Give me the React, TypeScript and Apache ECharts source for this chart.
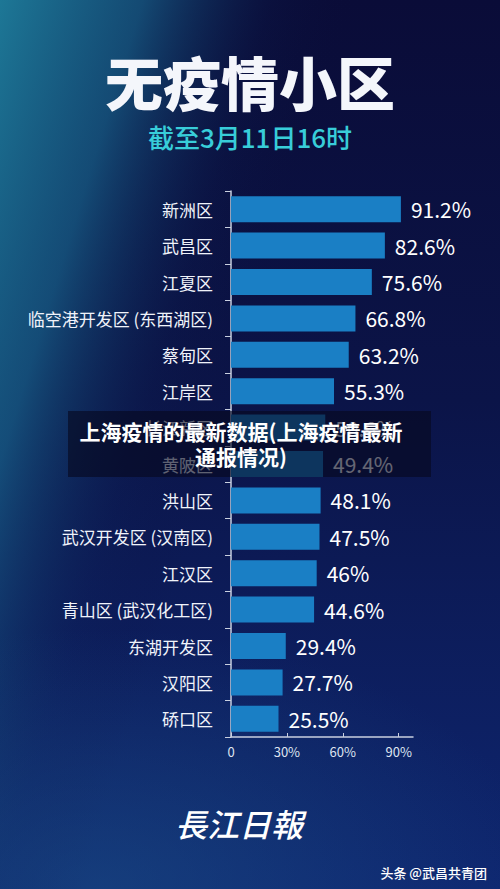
import React, { useEffect, useRef } from "react";
import * as echarts from "echarts";

const categories = [
  "新洲区",
  "武昌区",
  "江夏区",
  "临空港开发区 (东西湖区)",
  "蔡甸区",
  "江岸区",
  "长江新区",
  "黄陂区",
  "洪山区",
  "武汉开发区 (汉南区)",
  "江汉区",
  "青山区 (武汉化工区)",
  "东湖开发区",
  "汉阳区",
  "硚口区",
];
const values = [91.2, 82.6, 75.6, 66.8, 63.2, 55.3, 50.6, 49.4, 48.1, 47.5, 46, 44.6, 29.4, 27.7, 25.5];
const xTicks = [0, 30, 60, 90];

const title = "无疫情小区";
const subtitle = "截至3月11日16时";
const overlayText = "上海疫情的最新数据(上海疫情最新\n通报情况)";
const logoText = "長江日報";
const watermark = "头条 @武昌共青团";

const FONT = '"Noto Sans CJK SC", "Noto Sans", sans-serif';

export default function App() {
  const ref = useRef<HTMLDivElement>(null);
  useEffect(() => {
    document.body.style.margin = "0";
    const chart = echarts.init(ref.current!, null, { renderer: "svg" });
    chart.setOption({
      animation: false,
      textStyle: { fontFamily: FONT },
      grid: { left: 231, right: 87, top: 191, bottom: 152 },
      xAxis: {
        type: "value",
        min: 0,
        max: 97.7,
        interval: 30,
        splitLine: { show: false },
        axisLine: { show: true, lineStyle: { color: "#c9d0e0", width: 1.5 } },
        axisTick: { show: true, inside: true, length: 4, lineStyle: { color: "#c9d0e0" } },
        axisLabel: {
          showMaxLabel: false,
          color: "#dfe4f0",
          fontSize: 13,
          margin: 8,
          formatter: (v: number) => (xTicks.includes(v) ? (v === 0 ? "0" : v + "%") : ""),
        },
      },
      yAxis: {
        type: "category",
        inverse: true,
        data: categories,
        axisLine: { show: true, lineStyle: { color: "#c9d0e0", width: 1.5 } },
        axisTick: { show: true, length: 6, lineStyle: { color: "#c9d0e0" } },
        axisLabel: { color: "#f0f3fa", fontSize: 17, margin: 18 },
      },
      series: [
        {
          type: "bar",
          data: values,
          barWidth: 26,
          itemStyle: { color: "#1a7fc5" },
          label: {
            show: true,
            position: "right",
            distance: 10,
            color: "#ffffff",
            fontSize: 21,
            formatter: (p: any) => String(p.value) + "%",
          },
          z: 2,
        },
      ],
      graphic: [
        {
          type: "rect",
          z: -10,
          silent: true,
          shape: { x: 0, y: 0, width: 500, height: 889 },
          style: {
            fill: new echarts.graphic.LinearGradient(0, 0, 0, 1, [
              { offset: 0, color: "#0a0c38" },
              { offset: 0.45, color: "#0b1448" },
              { offset: 1, color: "#0e2670" },
            ]),
          },
        },
        {
          type: "rect",
          z: -9,
          silent: true,
          shape: { x: 0, y: 0, width: 500, height: 889 },
          style: {
            fill: new echarts.graphic.LinearGradient(0, 0, 1, 0.55, [
              { offset: 0, color: "rgba(30,125,155,0.95)" },
              { offset: 0.22, color: "rgba(24,100,140,0.7)" },
              { offset: 0.42, color: "rgba(14,40,90,0.15)" },
              { offset: 0.55, color: "rgba(10,14,56,0)" },
            ]),
          },
        },
        {
          type: "rect",
          z: -8,
          silent: true,
          shape: { x: 0, y: 600, width: 500, height: 289 },
          style: {
            fill: new echarts.graphic.RadialGradient(0.2, 1, 0.9, [
              { offset: 0, color: "rgba(30,90,140,0.45)" },
              { offset: 1, color: "rgba(30,90,140,0)" },
            ]),
          },
        },
        {
          type: "text",
          left: "center",
          top: 52,
          style: {
            text: title,
            fill: "#f4f6fb",
            font: `900 58px ${FONT}`,
            shadowColor: "rgba(0,0,0,0.5)",
            shadowBlur: 6,
            shadowOffsetY: 3,
          },
        },
        {
          type: "text",
          left: "center",
          top: 123,
          style: {
            text: subtitle,
            fill: "#38cdd9",
            font: `500 26px ${FONT}`,
          },
        },
        {
          type: "rect",
          z: 10,
          silent: true,
          shape: { x: 68, y: 411, width: 363, height: 66 },
          style: { fill: "rgba(6,8,30,0.62)" },
        },
        {
          type: "text",
          z: 11,
          x: 241,
          y: 443,
          style: {
            text: overlayText,
            fill: "#ffffff",
            font: `bold 21px ${FONT}`,
            align: "center",
            verticalAlign: "middle",
            lineHeight: 25,
            shadowColor: "rgba(0,0,0,0.8)",
            shadowBlur: 3,
            shadowOffsetX: 1,
            shadowOffsetY: 1,
          },
        },
        {
          type: "text",
          x: 239,
          y: 823,
          style: {
            text: logoText,
            fill: "#ffffff",
            font: `italic 500 32px ${FONT}`,
            align: "center",
            verticalAlign: "middle",
          },
        },
        {
          type: "text",
          x: 487,
          y: 872,
          style: {
            text: watermark,
            fill: "#ffffff",
            font: `500 13px ${FONT}`,
            align: "right",
            verticalAlign: "middle",
          },
        },
      ],
    });
    return () => chart.dispose();
  }, []);
  return <div ref={ref} style={{ width: 500, height: 889 }} />;
}
